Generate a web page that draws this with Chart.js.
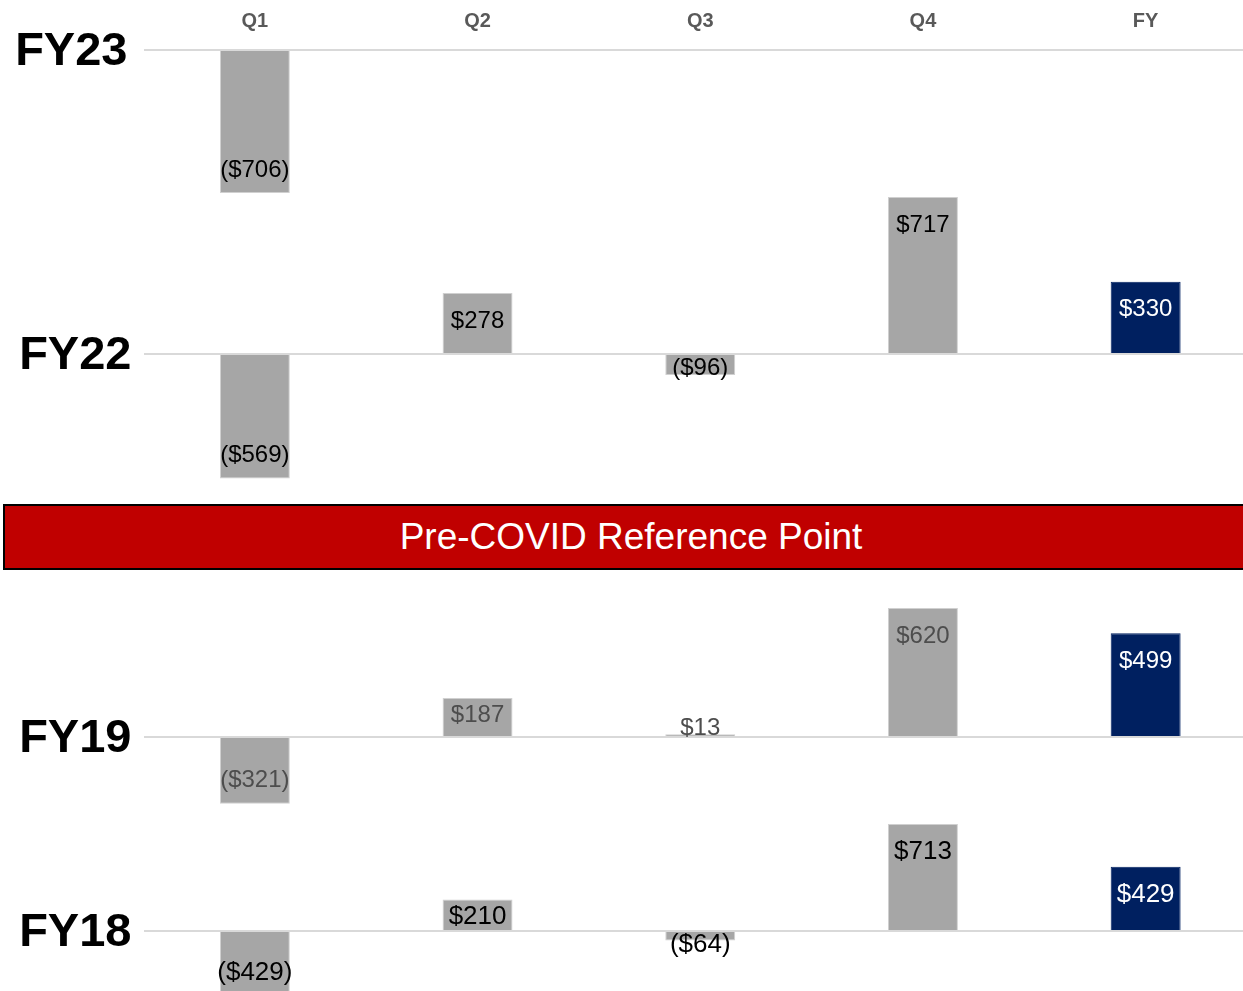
<!DOCTYPE html>
<html>
<head>
<meta charset="utf-8">
<script src="https://cdn.jsdelivr.net/npm/chart.js@4.4.1/dist/chart.umd.min.js"></script>
<style>
  html, body { margin: 0; padding: 0; background: #fff; overflow: hidden; }
  #wrap { position: relative; width: 1257px; height: 991px; }
  #banner {
    position: absolute; left: 3px; top: 504px; width: 1256px; height: 66px;
    box-sizing: border-box; background: #c00000; border: 2px solid #000;
    color: #fff; font: 37px "Liberation Sans", Arial, sans-serif;
    line-height: 62px; text-align: center; white-space: nowrap;
  }
</style>
</head>
<body>
<div id="wrap">
  <canvas id="grafico" width="1257" height="991"></canvas>
  <div id="banner">Pre-COVID Reference Point</div>
</div>
<script>
// datos
var categorias = ['Q1', 'Q2', 'Q3', 'Q4', 'FY'];
var filas = ['FY23', 'FY22', 'FY19', 'FY18'];
var valoresFY23 = [-706, null, null, null, null];
var valoresFY22 = [-569, 278, -96, 717, 330];
var valoresFY19 = [-321, 187, 13, 620, 499];
var valoresFY18 = [-429, 210, -64, 713, 429];

var series = { FY23: valoresFY23, FY22: valoresFY22, FY19: valoresFY19, FY18: valoresFY18 };

/*=============================================
ESTILO / DISPOSICION
=============================================*/
var FUENTE = '"Liberation Sans", Arial, sans-serif';
var GRIS = '#a6a6a6';
var AZUL = '#002060';
var AREA_TOP = 40;      // alto del eje x de arriba
var AREA_BOTTOM = 991;

// linea base (px) y px por unidad de cada fila
var disposicion = {
    FY23: { base: 50, escala: 0.2025, pad: 16, color: '#000', size: 24 },
    FY22: { base: 354, escala: 0.219, pad: 12, color: '#000', size: 24 },
    FY19: { base: 737, escala: 0.208, pad: 12, color: '#4d4d4d', size: 24 },
    FY18: { base: 931, escala: 0.150, pad: 12, color: '#000', size: 26 }
};

function formato(v) {
    return v < 0 ? '($' + (-v) + ')' : '$' + v;
}

var escalas = {
    x: {
        position: 'top',
        grid: { display: false, drawTicks: false },
        border: { display: false },
        ticks: { color: '#595959', font: { family: FUENTE, size: 20, weight: 'bold' }, padding: 7 },
        afterFit: function (eje) {
            eje.height = AREA_TOP;
            eje.paddingLeft = 0;
            eje.paddingRight = 0;
        }
    }
};

filas.forEach(function (fila) {
    var d = disposicion[fila];
    escalas['y' + fila] = {
        type: 'linear',
        position: 'left',
        min: -(AREA_BOTTOM - d.base) / d.escala,
        max: (d.base - AREA_TOP) / d.escala,
        grid: { color: '#d9d9d9', lineWidth: 2, drawTicks: false },
        border: { display: false },
        ticks: {
            color: '#000',
            font: { family: FUENTE, size: 47, weight: 'bold' },
            padding: d.pad,
            labelOffset: 2,
            callback: function () { return fila; }
        },
        afterBuildTicks: function (eje) { eje.ticks = [{ value: 0 }]; },
        afterFit: function (eje) {
            // todas las filas comparten el mismo margen izquierdo
            eje.width = 0;
            eje.paddingTop = 0;
            eje.paddingBottom = 0;
        }
    };
});

// despues del layout: los ejes y ocupan todo el margen izquierdo (para que se vean las etiquetas)
var margenEjes = {
    id: 'margenEjes',
    afterLayout: function (chart) {
        filas.forEach(function (fila) {
            var eje = chart.scales['y' + fila];
            eje.left = 0;
            eje.width = eje.right;
        });
    }
};

// etiquetas de valor dentro de las barras
var etiquetasBarras = {
    id: 'etiquetasBarras',
    afterDatasetsDraw: function (chart) {
        var ctx = chart.ctx;
        chart.data.datasets.forEach(function (ds, i) {
            var meta = chart.getDatasetMeta(i);
            var d = disposicion[ds.label];
            meta.data.forEach(function (barra, j) {
                var v = ds.data[j];
                if (v === null) return;
                var p = barra.getProps(['x', 'y', 'base'], true);
                var h = Math.abs(p.base - p.y);
                var cy;
                if (h >= 52) {
                    cy = v >= 0 ? p.y + 28 : p.y - 23;
                } else if (h >= 24) {
                    cy = v >= 0 ? p.y + 17 : p.y - 17;
                } else {
                    cy = v >= 0 ? p.base - 8 : p.base + 13;
                }
                ctx.save();
                ctx.font = d.size + 'px ' + FUENTE;
                ctx.fillStyle = categorias[j] === 'FY' ? '#fff' : d.color;
                ctx.textAlign = 'center';
                ctx.textBaseline = 'middle';
                ctx.fillText(formato(v), p.x, cy);
                ctx.restore();
            });
        });
    }
};

var ctx = document.getElementById('grafico').getContext('2d');
new Chart(ctx, {
    type: 'bar',
    data: {
        labels: categorias,
        datasets: filas.map(function (fila) {
            return {
                label: fila,
                data: series[fila],
                yAxisID: 'y' + fila,
                grouped: false,
                categoryPercentage: 1,
                barPercentage: 0.314,
                backgroundColor: categorias.map(function (c) { return c === 'FY' ? AZUL : GRIS; }),
                borderColor: categorias.map(function (c) { return c === 'FY' ? AZUL : '#d0d0d0'; }),
                borderWidth: 1
            };
        })
    },
    options: {
        responsive: false,
        animation: false,
        layout: { padding: { left: 143.5, right: 0, top: 0, bottom: 0 } },
        scales: escalas,
        plugins: {
            legend: { display: false },
            tooltip: { enabled: false }
        }
    },
    plugins: [margenEjes, etiquetasBarras]
});
</script>
</body>
</html>
